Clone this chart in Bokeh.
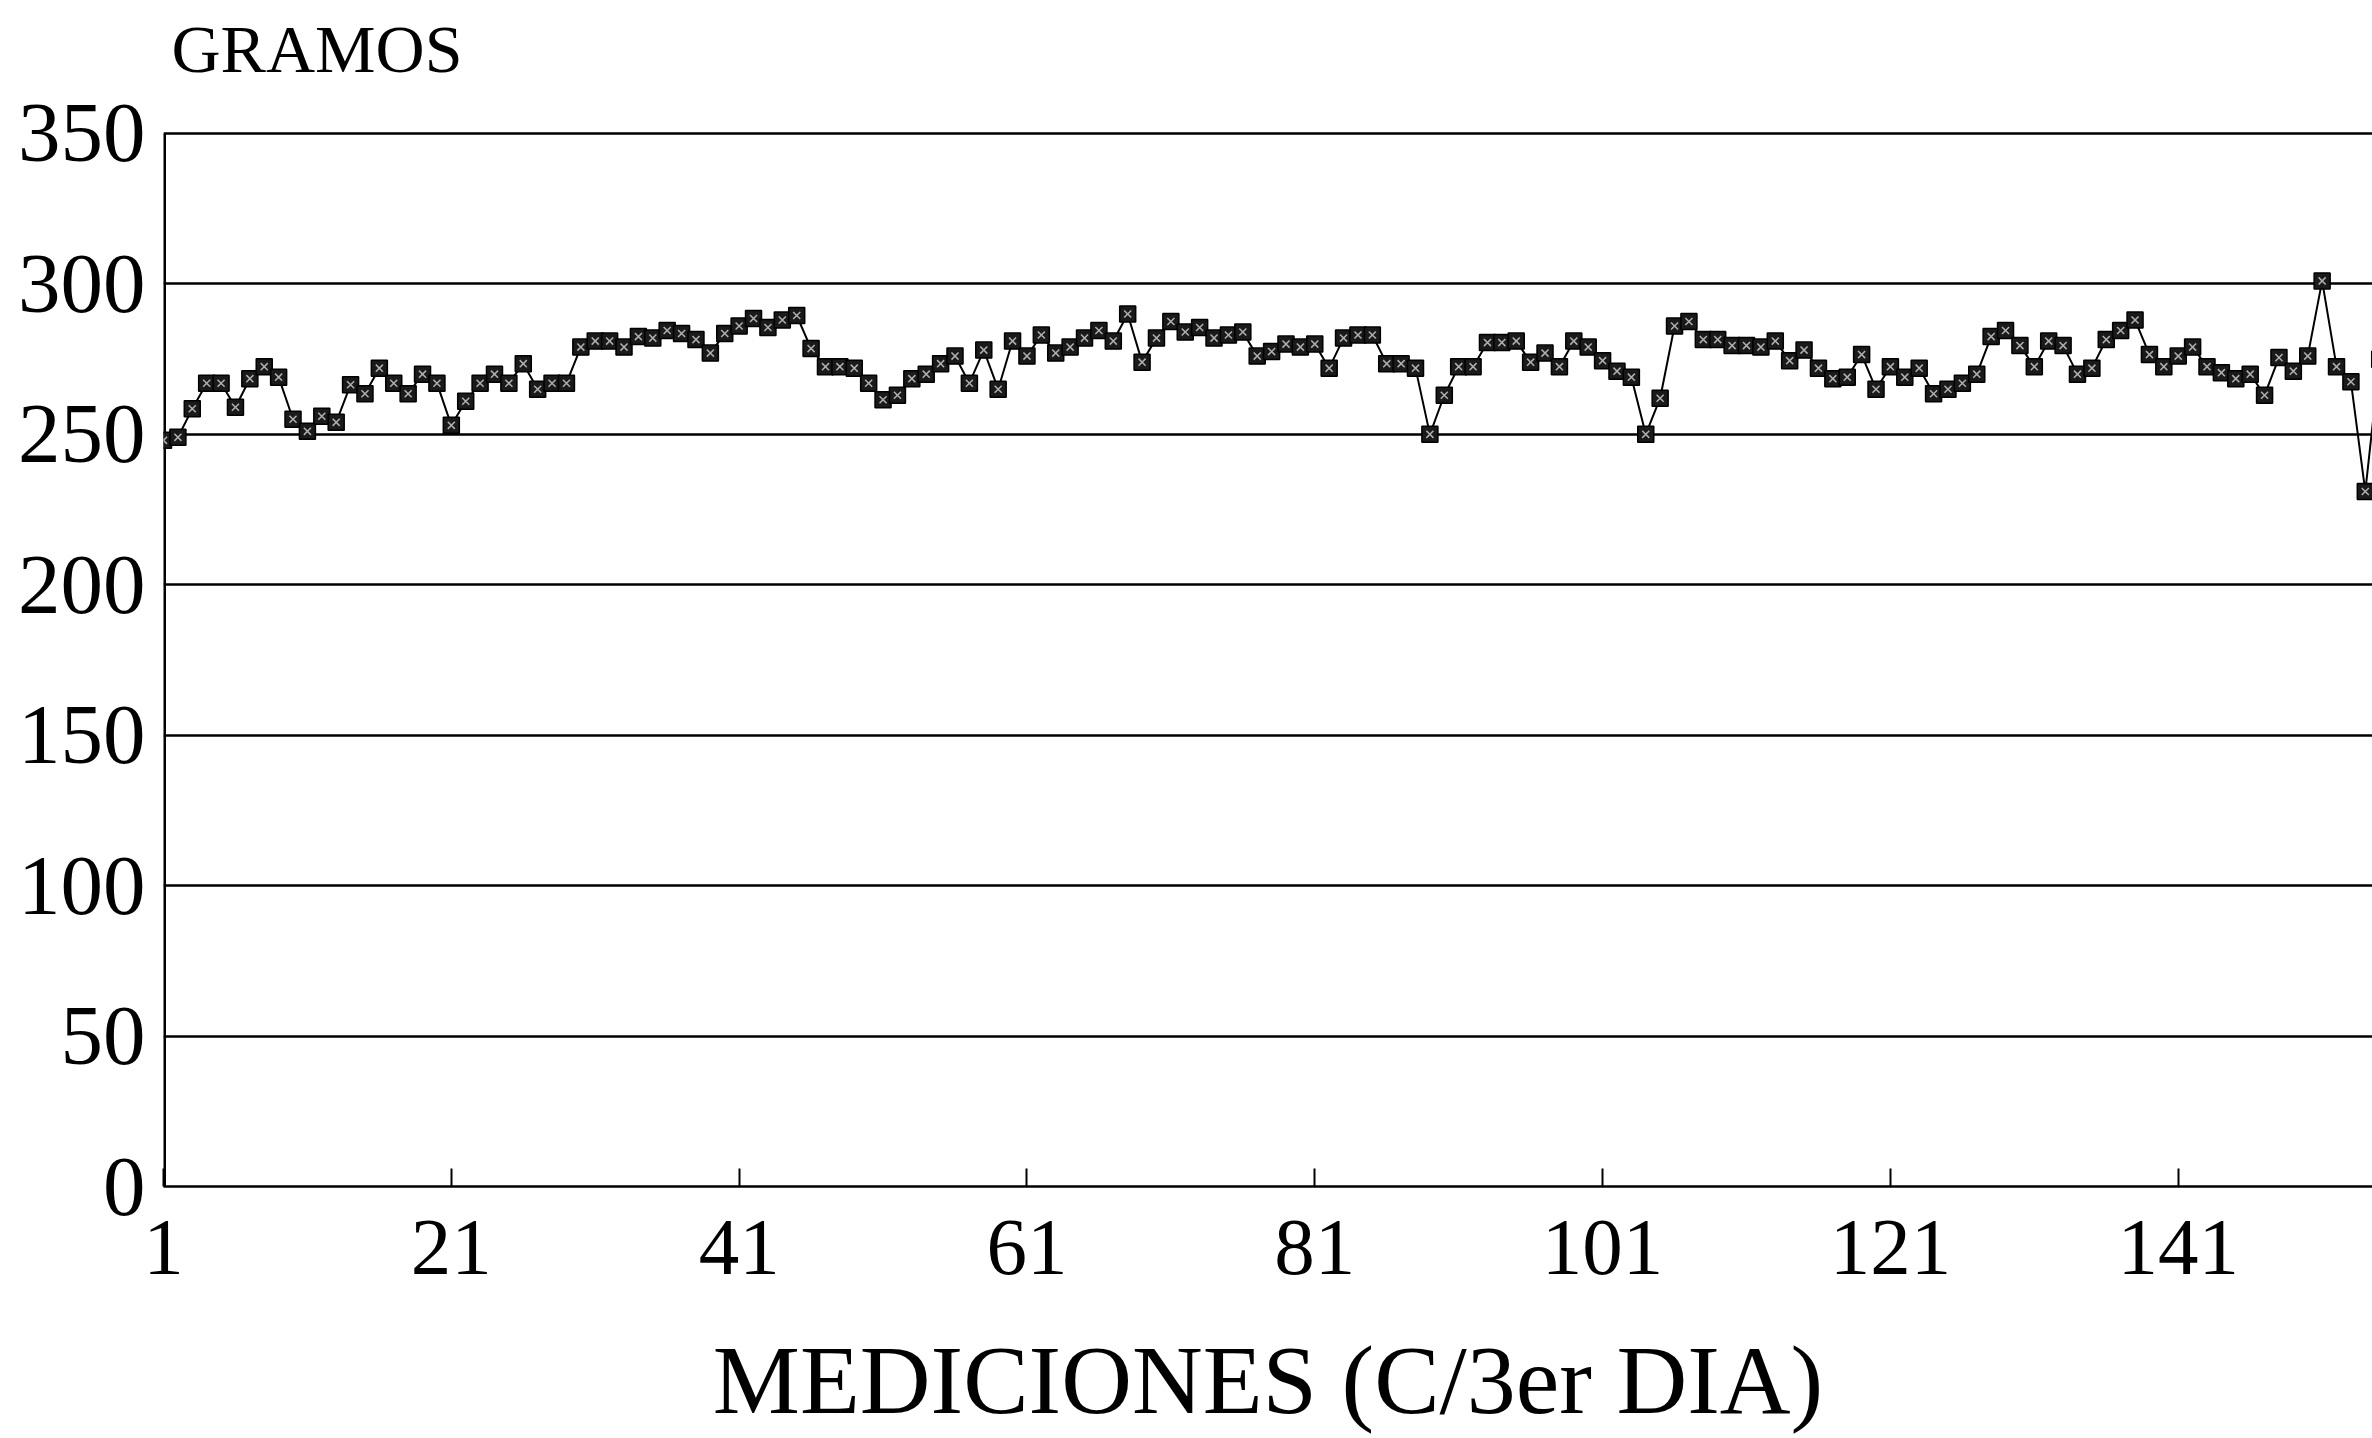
from bokeh.plotting import figure
from bokeh.models import FixedTicker, Range1d, Label
from bokeh.embed import file_html
from bokeh.resources import INLINE

# ---- data ----
mediciones = list(range(1, 156))
gramos = [
    248, 249, 258.5, 267, 267, 259, 268.5, 272.5, 269, 255,
    251, 256, 254, 266.5, 263.5, 272, 267, 263.5, 270, 267,
    253, 261, 267, 270, 267, 273.5, 265, 267, 267, 279,
    281, 281, 279, 282.5, 282, 284.5, 283.5, 281.5, 277, 283.5,
    286, 288.5, 285.5, 288, 289.5, 278.5, 272.5, 272.5, 272, 267,
    261.5, 263, 268.5, 270, 273.5, 276, 267, 278, 265, 281,
    276, 283, 277, 279, 282, 284.5, 281, 290, 274, 282,
    287.5, 284, 285.5, 282, 283, 284, 276, 277.5, 280, 279,
    280, 272, 282, 283, 283, 273.5, 273.5, 272, 250, 263,
    272.5, 272.5, 280.5, 280.5, 281, 274, 277, 272.5, 281, 279,
    274.5, 271, 269, 250, 262, 286, 287.5, 281.5, 281.5, 279.5,
    279.5, 279, 281, 274.5, 278, 272, 268.5, 269, 276.5, 265,
    272.5, 269, 272, 263.5, 265, 267, 270, 282.5, 284.5, 279.5,
    272.5, 281, 279.5, 270, 272, 281.5, 284.5, 288, 276.5, 272.5,
    276, 279, 272.5, 270.5, 268.5, 270, 263, 275.5, 271, 276,
    301, 272.5, 267.5, 231, 275,
]
x_ticks = [1, 21, 41, 61, 81, 101, 121, 141]
y_ticks = [0, 50, 100, 150, 200, 250, 300, 350]
y_title = "GRAMOS"
x_title = "MEDICIONES (C/3er DIA)"

FONT = "Liberation Serif"

# the frame reaches the top of the canvas so that the "GRAMOS" label sits inside it
p = figure(width=2372, height=1436, output_backend="svg", toolbar_location=None,
           x_range=Range1d(1, 154.5), y_range=Range1d(0, 394.2),
           min_border_left=163, min_border_right=0,
           min_border_top=0, min_border_bottom=250)
p.outline_line_color = None
p.background_fill_color = "white"
p.border_fill_color = "white"

p.xgrid.visible = False
p.ygrid.ticker = FixedTicker(ticks=y_ticks)
p.ygrid.grid_line_color = "black"
p.ygrid.grid_line_width = 2.5

for ax in (p.xaxis[0], p.yaxis[0]):
    ax.axis_line_color = "black"
    ax.axis_line_width = 2.5
    ax.major_tick_line_color = "black"
    ax.major_tick_line_width = 2
    ax.minor_tick_line_color = None
    ax.major_label_text_font = FONT
    ax.major_label_text_color = "black"

p.xaxis.ticker = FixedTicker(ticks=x_ticks)
p.xaxis.major_tick_in = 18
p.xaxis.major_tick_out = 0
p.xaxis.major_label_standoff = 34
p.xaxis.major_label_text_font_size = "81px"
p.xaxis.axis_label = x_title
p.xaxis.axis_label_text_font = FONT
p.xaxis.axis_label_text_font_size = "98px"
p.xaxis.axis_label_text_font_style = "normal"
p.xaxis.axis_label_text_color = "black"
p.xaxis.axis_label_standoff = 49

p.yaxis.ticker = FixedTicker(ticks=y_ticks)
p.yaxis.axis_line_color = None
p.yaxis.major_tick_in = 0
p.yaxis.major_tick_out = 0
p.yaxis.major_label_standoff = 18
p.yaxis.major_label_text_font_size = "85px"

# left border of the chart, from 0 up to the top tick only
p.segment(x0=[x_ticks[0]], y0=[y_ticks[0]], x1=[x_ticks[0]], y1=[y_ticks[-1]],
          line_color="black", line_width=5)

p.line(mediciones, gramos, line_color="black", line_width=2)
p.scatter(mediciones, gramos, marker="square", size=16,
          fill_color="#1a1a1a", line_color="black", line_width=1.5)
p.scatter(mediciones, gramos, marker="x", size=10,
          line_color="#b0b0b0", line_width=1.5)

p.add_layout(Label(x=8, y=1138, x_units="screen", y_units="screen", text=y_title,
                   text_font=FONT, text_font_size="68px", text_color="black",
                   text_baseline="alphabetic", text_align="left"))

open("out.html", "w").write(file_html(p, INLINE))
